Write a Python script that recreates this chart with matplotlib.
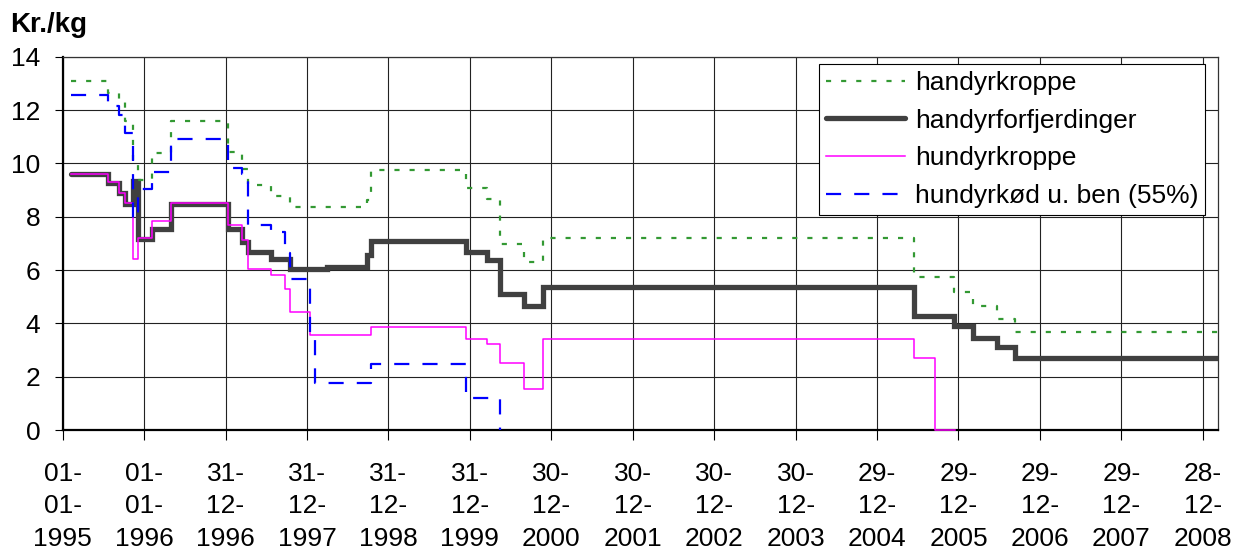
import matplotlib
matplotlib.use("Agg")
import matplotlib.pyplot as plt
import numpy as np

plt.rcParams['font.family'] = ['Liberation Sans', 'DejaVu Sans']

# price levels, each value holds from its date until the next date
forfj_dates = ["1995-02-07", "1995-07-24", "1995-09-12", "1995-10-07", "1995-11-14", "1995-12-06",
               "1996-02-04", "1996-05-01", "1997-01-10", "1997-03-17", "1997-04-12", "1997-07-25",
               "1997-10-18", "1998-03-30", "1998-09-25", "1998-10-12", "1999-12-12", "2000-03-16",
               "2000-05-13", "2000-08-31", "2000-11-25", "2005-06-12", "2005-12-08", "2006-03-05",
               "2006-06-20", "2006-09-07", "2009-03-05"]
forfj_values = [9.61, 9.28, 8.9, 8.49, 9.34, 7.18, 7.55, 8.49, 7.55, 7.05, 6.68, 6.43, 6.04, 6.12,
                6.55, 7.1, 6.68, 6.37, 5.09, 4.64, 5.37, 4.28, 3.91, 3.47, 3.12, 2.71, 2.71]

handkr_dates = ["1995-02-07", "1995-07-24", "1995-09-12", "1995-10-07", "1995-11-14", "1995-12-06",
                "1996-02-04", "1996-05-01", "1997-01-10", "1997-03-17", "1997-04-12", "1997-07-25",
                "1997-10-18", "1998-09-25", "1998-10-12", "1999-12-12", "2000-03-16", "2000-05-13",
                "2000-08-31", "2000-11-25", "2005-06-12", "2005-12-08", "2006-03-05", "2006-06-20",
                "2006-09-07", "2009-03-05"]
handkr_values = [13.08, 12.66, 12.3, 11.61, 10.0, 9.36, 10.39, 11.61, 10.42, 9.8, 9.18, 8.76, 8.36,
                 8.61, 9.74, 9.07, 8.65, 6.97, 6.3, 7.2, 5.74, 5.18, 4.66, 4.18, 3.68, 3.68]

hunkr_dates = ["1995-02-07", "1995-07-24", "1995-09-12", "1995-10-07", "1995-11-14", "1995-12-06",
               "1996-02-04", "1996-05-01", "1997-01-10", "1997-03-17", "1997-04-12", "1997-07-25",
               "1997-09-24", "1997-10-18", "1998-01-14", "1998-10-12", "1999-12-12", "2000-03-16",
               "2000-05-13", "2000-08-31", "2000-11-25", "2005-06-12", "2005-09-13", "2005-12-15"]
hunkr_values = [9.62, 9.3, 8.9, 8.53, 6.4, 7.22, 7.83, 8.53, 7.68, 7.12, 6.03, 5.83, 5.28, 4.41,
                3.56, 3.85, 3.41, 3.21, 2.5, 1.52, 3.41, 2.71, 0.0, 0.0]

hunkod_dates = ["1995-02-07", "1995-07-24", "1995-09-12", "1995-10-07", "1995-11-14", "1995-12-06",
                "1996-02-04", "1996-05-01", "1997-01-10", "1997-03-17", "1997-04-12", "1997-07-25",
                "1997-09-24", "1997-10-18", "1998-01-14", "1998-02-05", "1998-10-12", "1999-12-12",
                "2000-05-13", "2000-05-18"]
hunkod_values = [12.56, 12.17, 11.8, 11.13, 7.9, 9.05, 9.67, 10.9, 9.82, 9.6, 7.68, 7.43, 6.64,
                 5.66, 3.6, 1.75, 2.48, 1.19, 0.0, 0.0]

tick_dates = ["1995-01-01", "1996-01-01", "1996-12-31", "1997-12-31", "1998-12-31", "1999-12-31",
              "2000-12-30", "2001-12-30", "2002-12-30", "2003-12-30", "2004-12-29", "2005-12-29",
              "2006-12-29", "2007-12-29", "2008-12-28"]

def to_days(lst):
    return np.array(lst, dtype="datetime64[D]")

fig = plt.figure(figsize=(12.36, 5.57), dpi=100)
ax = fig.add_axes([0.0507, 0.228, 0.9345, 0.670])

l_forfj, = ax.step(to_days(forfj_dates), forfj_values, where="post", color="#404040",
                   linewidth=3.8, solid_capstyle="round", solid_joinstyle="miter", zorder=3,
                   label="handyrforfjerdinger")
l_handkr, = ax.step(to_days(handkr_dates), handkr_values, where="post", color="#339933",
                    linewidth=1.6, linestyle=(0, (2.3, 4.5)), zorder=4, label="handyrkroppe")
l_hunkr, = ax.step(to_days(hunkr_dates), hunkr_values, where="post", color="#ff00ff",
                   linewidth=1.1, zorder=5, clip_on=False, label="hundyrkroppe")
l_hunkod, = ax.step(to_days(hunkod_dates), hunkod_values, where="post", color="#0000ff",
                    linewidth=1.6, linestyle=(0, (6.8, 5.9)), zorder=6,
                    label="hundyrkød u. ben (55%)")

ticks = to_days(tick_dates)
ax.set_xlim(np.datetime64("1995-01-01"), np.datetime64("2009-03-05"))
ax.set_ylim(0, 14)
ax.set_yticks(range(0, 15, 2))
ax.set_xticks(ticks)
labels = []
for t in tick_dates:
    y, m, d = t.split("-")
    labels.append(f"{d}-\n{m}-\n{y}")
ax.set_xticklabels(labels, linespacing=1.45)

ax.grid(True, color="#222222", linewidth=0.8)
ax.set_axisbelow(True)
ax.tick_params(axis="x", direction="out", length=7, width=0.8, pad=16, labelsize=19)
ax.tick_params(axis="y", direction="out", length=6, width=0.8, pad=10, labelsize=19)
ax.spines["left"].set_linewidth(1.6)
ax.spines["bottom"].set_linewidth(1.6)
ax.spines["top"].set_linewidth(0.9)
ax.spines["right"].set_linewidth(0.9)
ax.spines["top"].set_color("#333333")
ax.spines["right"].set_color("#333333")

leg = ax.legend(handles=[l_handkr, l_forfj, l_hunkr, l_hunkod], loc="upper right",
                bbox_to_anchor=(0.989, 0.980), borderaxespad=0, fontsize=19,
                frameon=True, fancybox=False, edgecolor="black", framealpha=1,
                handlelength=3.0, handletextpad=0.38, labelspacing=0.52, borderpad=0.25)
leg.get_frame().set_linewidth(0.8)

fig.text(0.008, 0.978, "Kr./kg", fontsize=20, fontweight="bold", va="top", ha="left")

fig.savefig("out.png", dpi=100)
